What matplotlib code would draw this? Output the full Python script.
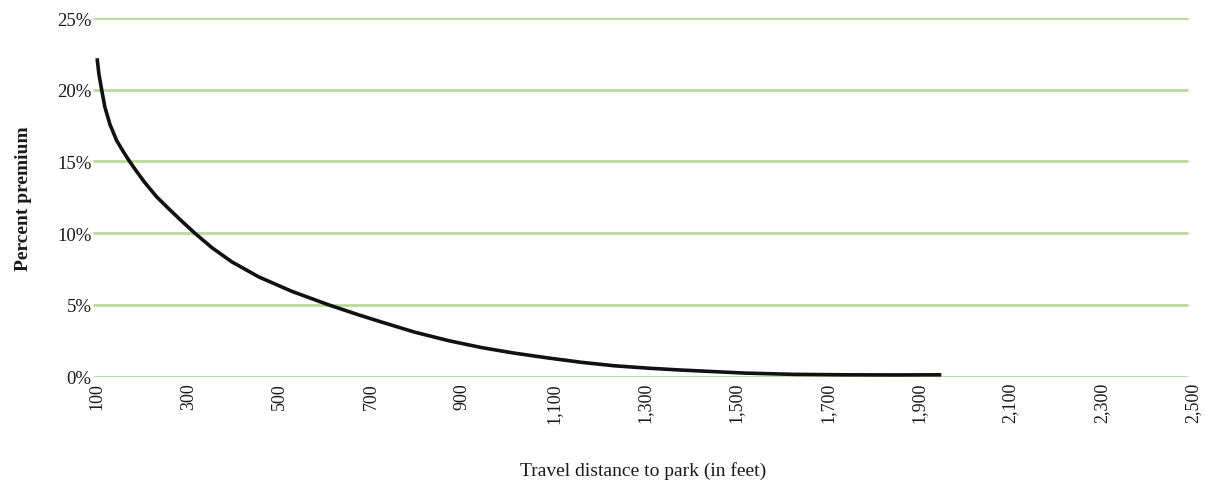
import matplotlib.pyplot as plt

plt.rcParams["font.family"] = ["Liberation Serif", "DejaVu Serif"]

# values
distance = [100, 104, 110, 117, 128, 143, 161, 172, 186, 204, 230, 257, 285,
            314, 351, 395, 454, 526, 607, 673, 723, 795, 870, 942, 1014, 1089,
            1161, 1233, 1308, 1380, 1446, 1518, 1627, 1737, 1846, 1949]
premium = [22.2, 21.1, 20.0, 18.8, 17.6, 16.45, 15.5, 14.97, 14.33, 13.55,
           12.55, 11.7, 10.85, 10.0, 9.0, 8.0, 6.95, 5.95, 5.0, 4.3, 3.8,
           3.1, 2.5, 2.02, 1.63, 1.29, 0.99, 0.75, 0.58, 0.45, 0.35, 0.24,
           0.15, 0.12, 0.11, 0.12]

y_ticks = [0, 5, 10, 15, 20, 25]
y_labels = ["0%", "5%", "10%", "15%", "20%", "25%"]
x_ticks = list(range(100, 2501, 200))
x_labels = ["100", "300", "500", "700", "900", "1,100", "1,300", "1,500",
            "1,700", "1,900", "2,100", "2,300", "2,500"]

fig = plt.figure(figsize=(12.06, 4.85), dpi=100)
ax = fig.add_axes([0.0771, 0.2216, 0.912, 0.739])
ax.set_xlim(91, 2500)
ax.set_ylim(0, 25)

# green gridlines
ax.hlines(y_ticks, 91, 2489, color="#b9d99a", linewidth=2, zorder=1)
ax.plot(distance, premium, color="#111111", linewidth=2.6,
        solid_capstyle="butt", solid_joinstyle="round", zorder=2)

for s in ax.spines.values():
    s.set_visible(False)

ax.set_yticks(y_ticks)
ax.set_yticklabels(y_labels, fontsize=13.5, color="#1a1a1a")
ax.set_xticks(x_ticks)
ax.set_xticklabels(x_labels, rotation=90, fontsize=13, color="#1a1a1a",
                   va="top", ha="center")
ax.tick_params(axis="both", length=0)
ax.tick_params(axis="y", pad=1)
ax.tick_params(axis="x", pad=4)

ax.set_ylabel("Percent premium", fontsize=14, fontweight="bold",
              color="#1a1a1a", labelpad=18)
ax.set_xlabel("Travel distance to park (in feet)", fontsize=14,
              color="#1a1a1a", labelpad=28)

plt.savefig("out.png", dpi=100)
